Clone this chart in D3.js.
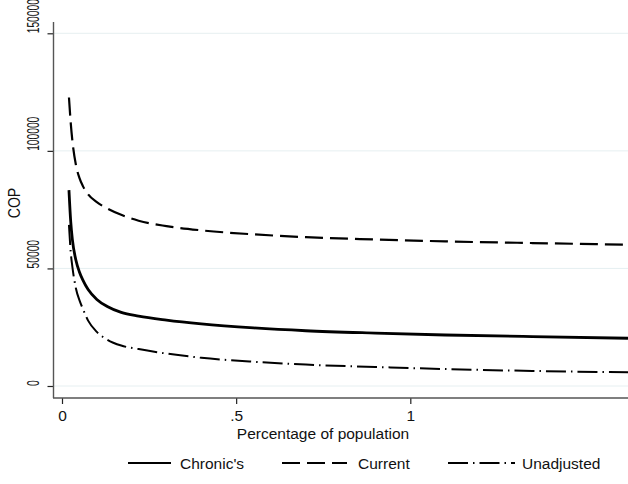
<!DOCTYPE html>
<html>
<head>
<meta charset="utf-8">
<script src="https://cdn.jsdelivr.net/npm/d3@7"></script>
<style>
  html, body { margin: 0; padding: 0; background: #fff; }
  svg { display: block; font-family: "Liberation Sans", Arial, sans-serif; }
</style>
</head>
<body>
<svg id="chart" width="628" height="484"></svg>
<script>
// Share of population (x) and cost per outcome (COP) for each adjustment
const share = [0.02, 0.025, 0.03, 0.04, 0.05, 0.06, 0.075, 0.1, 0.13, 0.17, 0.22, 0.3, 0.4, 0.55, 0.7, 0.9, 1.1, 1.35, 1.625];
const chronic = [83300, 70000, 62000, 53500, 48500, 45000, 41000, 36800, 33800, 31300, 29700, 28000, 26400, 24700, 23500, 22500, 21700, 21000, 20300];
const current = [122700, 112000, 104000, 94000, 88500, 85000, 81500, 78200, 75500, 72800, 70300, 68000, 66200, 64500, 63300, 62300, 61500, 60800, 60100];
const unadjusted = [68500, 57000, 50500, 41500, 36500, 32800, 27800, 23000, 19700, 17200, 15700, 13800, 12000, 10300, 9100, 8100, 7200, 6400, 5800];

const xTicks = [0, 0.5, 1];
const xTickLabels = ["0", ".5", "1"];
const yTicks = [0, 50000, 100000, 150000];
const yTickLabels = ["0", "50000", "100000", "150000"];

const seriesNames = ["Chronic's", "Current", "Unadjusted"];
const seriesValues = [chronic, current, unadjusted];

const styles = [
  { width: 2.8, dash: null },
  { width: 2.2, dash: "18,7" },
  { width: 2.0, dash: "20,5,1.5,5" }
];

const svg = d3.select("#chart");

const x = d3.scaleLinear().domain([0, 1.625]).range([62, 628]);
const y = d3.scaleLinear().domain([0, 150000]).range([386, 33.3]);

const axisColor = "#555";
const textColor = "#111";

// horizontal grid lines
svg.append("g").selectAll("line").data(yTicks).join("line")
  .attr("x1", 54).attr("x2", 628)
  .attr("y1", d => y(d)).attr("y2", d => y(d))
  .attr("stroke", "#e6eff1").attr("stroke-width", 1);

// y axis
const yAxis = svg.append("g").attr("transform", "translate(53.5,0)")
  .call(d3.axisLeft(y).tickValues(yTicks).tickSize(6).tickFormat(""));
yAxis.select(".domain").remove();
yAxis.selectAll(".tick line").attr("stroke", "#222").attr("stroke-width", 1.2);
svg.append("line").attr("x1", 53.5).attr("x2", 53.5).attr("y1", 22).attr("y2", 398)
  .attr("stroke", axisColor).attr("stroke-width", 1.4);

// y tick labels, rotated, reading upward from the tick
svg.append("g").selectAll("text").data(yTicks).join("text")
  .attr("transform", d => `translate(38.5,${y(d)}) rotate(-90) scale(0.64,1)`)
  .attr("text-anchor", "start")
  .attr("font-size", 16)
  .attr("fill", textColor)
  .text((d, i) => yTickLabels[i]);

// y title
svg.append("text")
  .attr("transform", `translate(20,203) rotate(-90) scale(0.88,1)`)
  .attr("text-anchor", "middle")
  .attr("font-size", 16)
  .attr("fill", textColor)
  .text("COP");

// x axis
const xAxis = svg.append("g").attr("transform", "translate(0,398)")
  .call(d3.axisBottom(x).tickValues(xTicks).tickSize(6).tickFormat((d, i) => xTickLabels[i]));
xAxis.select(".domain").remove();
xAxis.selectAll(".tick line").attr("stroke", "#222").attr("stroke-width", 1.2);
xAxis.selectAll(".tick text")
  .attr("y", 22.5).attr("dy", null)
  .attr("font-size", 15.5).attr("font-family", "Liberation Sans, Arial, sans-serif")
  .attr("fill", textColor);
svg.append("line").attr("x1", 53).attr("x2", 628).attr("y1", 398).attr("y2", 398)
  .attr("stroke", axisColor).attr("stroke-width", 1.4);

// x title
svg.append("text")
  .attr("x", 323).attr("y", 438.5)
  .attr("text-anchor", "middle")
  .attr("font-size", 15.5)
  .attr("fill", textColor)
  .text("Percentage of population");

// curves
const line = d3.line()
  .x(d => x(d[0]))
  .y(d => y(d[1]))
  .curve(d3.curveMonotoneX);

seriesValues.forEach((vals, i) => {
  svg.append("path")
    .datum(share.map((s, j) => [s, vals[j]]))
    .attr("d", line)
    .attr("fill", "none")
    .attr("stroke", "#000")
    .attr("stroke-width", styles[i].width)
    .attr("stroke-dasharray", styles[i].dash)
    .attr("stroke-linejoin", "round");
});

// legend
const legendItems = [
  { x1: 128, x2: 171, tx: 180 },
  { x1: 282, x2: 347, tx: 358 },
  { x1: 448, x2: 515, tx: 522 }
];
const legend = svg.append("g");
legendItems.forEach((it, i) => {
  legend.append("line")
    .attr("x1", it.x1).attr("x2", it.x2).attr("y1", 463).attr("y2", 463)
    .attr("stroke", "#000")
    .attr("stroke-width", Math.min(styles[i].width, 2.2))
    .attr("stroke-dasharray", styles[i].dash);
  legend.append("text")
    .attr("x", it.tx).attr("y", 469)
    .attr("font-size", 15.5)
    .attr("fill", textColor)
    .text(seriesNames[i]);
});
</script>
</body>
</html>
